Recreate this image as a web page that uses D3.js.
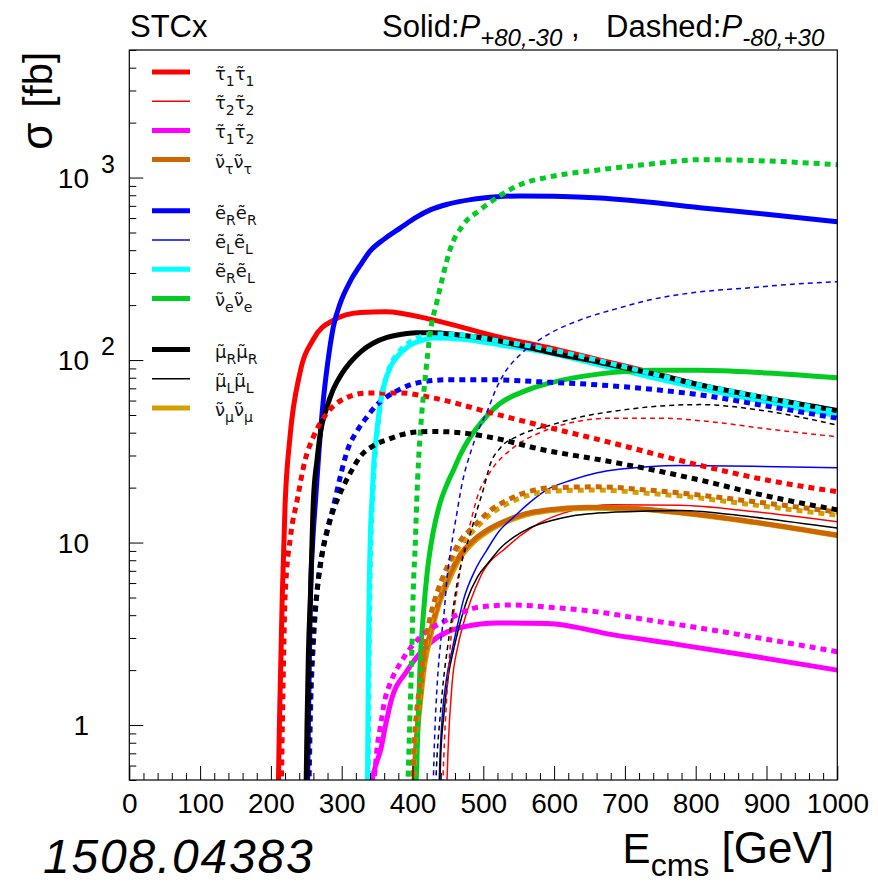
<!DOCTYPE html>
<html>
<head>
<meta charset="utf-8">
<script src="https://cdn.jsdelivr.net/npm/d3@7"></script>
<style>
  body { margin: 0; background: #fff; }
  text { font-family: "Liberation Sans", Arial, Helvetica, sans-serif; }
</style>
</head>
<body>
<div id="chart"></div>
<script>
// cross sections [E_cms GeV, sigma fb]; solid = P(+80,-30), dashed = P(-80,+30)
const stau11Solid = [[209,0.2],[212,1.0],[216,5],[220,16],[227,38],[241,85],[260,130],[288,165],[326,182],[362,184],[429,166],[514,136],[600,115],[665,100],[740,85],[806,73],[900,61],[1000,52]];
const stau11Dashed = [[214,0.3],[217,1.5],[220,5],[228,11],[237,17],[248,28],[260,38],[279,51],[302,61],[336,66],[383,66],[429,62],[514,51],[600,42],[665,36.5],[806,26.5],[900,22],[1000,19]];
const stau22Solid = [[447,0.3],[450,0.7],[456,1.7],[464,2.7],[472,3.6],[496,6.5],[534,9.5],[570,12.2],[613,14.5],[684,16.1],[777,16.0],[880,14.8],[1000,13]];
const stau22Dashed = [[441,0.3],[445,0.8],[450,1.8],[456,3.5],[463,5.5],[472,9],[480,12],[492,18],[510,24.5],[542,33],[580,40],[620,45],[680,48],[750,48],[820,46],[900,42],[1000,38]];
const stau12Solid = [[340,0.42],[343,0.5],[349,0.62],[355,0.73],[362,1.0],[369,1.32],[393,2.0],[425,2.82],[472,3.45],[520,3.63],[590,3.6],[684,3.12],[778,2.75],[890,2.35],[1000,2.0]];
const stau12Dashed = [[344,0.4],[346,0.5],[350,0.75],[355,1.0],[360,1.32],[370,1.75],[383,2.19],[411,3.04],[449,3.77],[496,4.44],[542,4.55],[600,4.4],[661,4.17],[732,3.77],[778,3.54],[890,3.0],[1000,2.52]];
const snutSolid = [[400,0.3],[403,0.6],[407,1.0],[410,1.3],[416,2.2],[425,3.2],[436,4.6],[449,6.24],[466,8.4],[486,10.3],[510,12.0],[534,13.3],[560,14.4],[590,15.1],[647,15.6],[708,15.4],[778,14.6],[880,13],[1000,11]];
const snutDashed = [[399,0.3],[402,0.73],[406,1.2],[411,1.7],[418,2.8],[425,3.91],[436,5.5],[449,7.36],[466,10],[486,12.2],[510,15],[534,17.1],[560,18.8],[590,19.9],[661,20.2],[732,19.4],[778,18.7],[880,16.8],[1000,14.7]];
const seRRSolid = [[251,0.3],[253,1.0],[254.5,2.5],[256,5.3],[259,10],[263,17],[268,32],[274,60],[280,95],[288,151],[298,205],[312,270],[326,330],[340,395],[360,460],[383,530],[405,605],[425,665],[450,715],[482,757],[520,785],[552,793],[600,790],[665,773],[740,730],[806,684],[900,630],[1000,573]];
const seRRDashed = [[253,0.3],[256,1.2],[260,2.8],[265,5.3],[273,9],[280,12],[288,15.6],[298,23],[308,32],[322,41],[336,49],[350,57],[364,63],[385,70],[407,75],[450,78],[514,78],[580,76],[665,73],[740,69],[806,64.5],[900,56],[1000,48]];
const seLLSolid = [[436,0.3],[439,0.7],[442,1.11],[449,1.9],[456,2.58],[464,3.6],[472,4.85],[488,7.0],[505,9.1],[522,11.5],[543,13.8],[565,16.5],[590,19.5],[625,22],[661,24.1],[732,26],[778,26.4],[880,26.2],[1000,25.7]];
const seLLDashed = [[428,0.3],[431,0.8],[435,1.7],[440,2.9],[444,3.9],[449,6.5],[454,9.1],[462,14],[470,21],[483,32],[495,43],[506,53],[517,68],[530,85],[552,107],[590,137],[637,166],[690,192],[736,214],[800,235],[877,249],[940,261],[1000,269]];
const seRLSolid = [[336,0.3],[337,1],[338,3],[339,6],[340.5,11],[343,18],[345,26],[350,42],[355,60],[362,78],[369,92],[380,106],[393,118],[410,127],[429,132],[470,130],[524,121],[600,108],[665,94],[740,80],[806,70],[900,59],[1000,49.5]];
const seRLDashed = [[337,0.3],[338,1],[339,3],[340,6],[341.5,11],[344,18],[346,26],[351,43],[356,62],[363,81],[370,96],[381,111],[394,124],[411,134],[430,139],[470,137],[524,127],[600,113],[665,99],[740,84],[806,73],[900,62],[1000,52]];
const sneSolid = [[403,0.3],[406,0.6],[408,1.1],[411,2.3],[415,3.9],[421,7],[429,11.3],[438,16],[449,21],[458,25],[467,30],[480,37],[492,43],[508,51],[524,58],[560,68],[595,75],[665,84],[740,88],[806,88],[900,85],[1000,80]];
const sneDashed = [[392,0.3],[396,1.0],[399,2.5],[401,5.3],[404,10],[406,17],[408.5,28],[411,40],[418,80],[425,141],[435,213],[444,300],[453,403],[470,540],[496,667],[520,780],[552,914],[600,1020],[665,1104],[740,1190],[806,1253],[880,1240],[1000,1177]];
const smuRRSolid = [[249,0.3],[251,1.0],[253,2.5],[256,5.3],[260,17],[265,28],[270,40],[279,55],[288,69],[300,84],[312,97],[328,112],[345,124],[364,133],[383,138],[405,141],[429,141],[460,138],[500,132],[560,118],[600,109],[665,97],[740,84],[806,73],[900,62],[1000,53]];
const smuRRDashed = [[251,0.3],[254,1.2],[258,2.5],[265,5.3],[272,8.5],[279,11.3],[288,15],[298,18.7],[312,24],[326,29.5],[345,34],[364,36.6],[385,39],[407,40.4],[430,40.6],[453,40.4],[514,37.5],[580,32.5],[665,28.4],[740,25],[806,22],[900,18],[1000,15.1]];
const smuLLSolid = [[437,0.3],[440,0.7],[444,1.11],[451,1.9],[458,2.58],[467,3.6],[477,4.85],[492,6.5],[510,8.0],[525,9.4],[543,10.7],[565,12],[590,13],[625,14],[661,14.5],[732,14.9],[778,15.0],[880,13.8],[1000,12]];
const smuLLDashed = [[431,0.3],[434,0.6],[439,1.11],[444,1.8],[449,2.58],[456,4.0],[463,6.0],[472,8.5],[482,11.3],[491,15],[500,19.5],[510,27],[524,33],[550,38.5],[595,44],[640,49],[693,53],[750,56],[806,57],[900,52.5],[1000,44]];
const snumSolid = [[401,0.3],[404,0.6],[408,1.0],[411,1.3],[417,2.1],[426,3.1],[437,4.5],[450,6.0],[467,8.2],[487,10.1],[511,11.8],[535,13.1],[561,14.2],[591,14.9],[648,15.4],[709,15.3],[779,14.5],[880,12.9],[1000,10.9]];
const snumDashed = [[400,0.3],[403,0.7],[407,1.15],[412,1.65],[419,2.7],[426,3.75],[437,5.3],[450,7.1],[467,9.6],[487,11.7],[511,14.4],[535,16.4],[561,18.0],[591,19.1],[662,19.4],[733,18.6],[779,18.0],[880,16.1],[1000,14.1]];

// legend
const legendLabels = [
  [["τ","1"],["τ","1"]], [["τ","2"],["τ","2"]], [["τ","1"],["τ","2"]], [["ν","τ"],["ν","τ"]],
  [["e","R"],["e","R"]], [["e","L"],["e","L"]], [["e","R"],["e","L"]], [["ν","e"],["ν","e"]],
  [["μ","R"],["μ","R"]], [["μ","L"],["μ","L"]], [["ν","μ"],["ν","μ"]]
];
const legendColors = ["#ff0000","#ff0000","#ff00ff","#cc6600","#0000ff","#0000ff","#00ffff","#00cc22","#000000","#000000","#d4a000"];
const legendThick = [true,false,true,true,true,false,true,true,true,false,true];
const legendGroup = [0,0,0,0,1,1,1,1,2,2,2];

const xTicks = [0,100,200,300,400,500,600,700,800,900,1000];
const yTicks = [1,10,100,1000];
const yTickExp = ["1","10","2","3"];

// curve pairs in legend order (solid, dashed)
const curveSets = [
  [stau11Solid, stau11Dashed], [stau22Solid, stau22Dashed], [stau12Solid, stau12Dashed], [snutSolid, snutDashed],
  [seRRSolid, seRRDashed], [seLLSolid, seLLDashed], [seRLSolid, seRLDashed], [sneSolid, sneDashed],
  [smuRRSolid, smuRRDashed], [smuLLSolid, smuLLDashed], [snumSolid, snumDashed]
];

const W = 878, H = 884;
const frame = { left: 129.3, right: 837.3, top: 50, bottom: 780 };

const svg = d3.select("#chart").append("svg").attr("width", W).attr("height", H);

const x = d3.scaleLinear().domain([0, 1000]).range([frame.left, frame.right]);
const y = d3.scaleLog().domain([0.5, 5000]).range([frame.bottom, frame.top]);

svg.append("clipPath").attr("id", "clip")
  .append("rect")
  .attr("x", frame.left).attr("y", frame.top)
  .attr("width", frame.right - frame.left).attr("height", frame.bottom - frame.top);

const line = d3.line().x(d => x(d[0])).y(d => y(d[1])).curve(d3.curveMonotoneX);

const curves = svg.append("g").attr("clip-path", "url(#clip)");
// draw order: solids then dashed; muon sneutrino before tau sneutrino
const order = [0,1,2,10,3,4,5,6,7,8,9];
[0, 1].forEach(k => {
  order.forEach(i => {
    const thick = legendThick[i];
    curves.append("path")
      .datum(curveSets[i][k])
      .attr("fill", "none")
      .attr("stroke", legendColors[i])
      .attr("stroke-width", thick ? 5 : 1.5)
      .attr("stroke-dasharray", k === 0 ? null : (thick ? "6,5" : "5,4"))
      .attr("d", line);
  });
});

// frame
svg.append("rect")
  .attr("x", frame.left).attr("y", frame.top)
  .attr("width", frame.right - frame.left).attr("height", frame.bottom - frame.top)
  .attr("fill", "none").attr("stroke", "#000").attr("stroke-width", 1.2);

// x axis (ticks pointing inward)
const xMinor = d3.range(0, 1001, 20).filter(v => v % 100 !== 0);
svg.append("g")
  .attr("transform", `translate(0,${frame.bottom})`)
  .call(d3.axisBottom(x).tickValues(xMinor).tickSize(-7).tickSizeOuter(0).tickFormat(""))
  .call(g => g.select(".domain").remove());
const xAxis = svg.append("g")
  .attr("transform", `translate(0,${frame.bottom})`)
  .call(d3.axisBottom(x).tickValues(xTicks).tickSize(-14).tickSizeOuter(0).tickPadding(13).tickFormat(d3.format("d")));
xAxis.select(".domain").remove();
xAxis.selectAll("text").attr("font-size", 28).attr("fill", "#000")
  .style("font-family", '"Liberation Sans", Arial, sans-serif');

// y axis
const yMinor = [];
[0.1, 1, 10, 100, 1000].forEach(dec => {
  for (let m = 2; m <= 9; m++) {
    const v = m * dec;
    if (v >= 0.5 && v <= 5000) yMinor.push(v);
  }
});
svg.append("g")
  .attr("transform", `translate(${frame.left},0)`)
  .call(d3.axisLeft(y).tickValues(yMinor).tickSize(-7).tickSizeOuter(0).tickFormat(""))
  .call(g => g.select(".domain").remove());
svg.append("g")
  .attr("transform", `translate(${frame.left},0)`)
  .call(d3.axisLeft(y).tickValues(yTicks).tickSize(-14).tickSizeOuter(0).tickFormat(""))
  .call(g => g.select(".domain").remove());

yTicks.forEach((v, i) => {
  const ty = y(v);
  const base = v >= 100 ? "10" : String(v);
  svg.append("text")
    .attr("x", 89).attr("y", ty + 10)
    .attr("text-anchor", "end").attr("font-size", 28)
    .text(base);
  if (v >= 100) {
    svg.append("text")
      .attr("x", 101).attr("y", ty - 5)
      .attr("font-size", 25)
      .text(yTickExp[i]);
  }
});

// titles
svg.append("text").attr("x", 130).attr("y", 37).attr("font-size", 31).text("STCx");
const pol = svg.append("text").attr("x", 382).attr("y", 37).attr("font-size", 31);
pol.append("tspan").text("Solid:");
pol.append("tspan").attr("font-style", "italic").text("P");
pol.append("tspan").attr("font-style", "italic").attr("font-size", 24).attr("dy", 9).text("+80,-30");
pol.append("tspan").attr("dy", -9).text(" ,");
pol.append("tspan").attr("x", 606).text("Dashed:");
pol.append("tspan").attr("font-style", "italic").text("P");
pol.append("tspan").attr("font-style", "italic").attr("font-size", 24).attr("dy", 9).text("-80,+30");

const xt = svg.append("text").attr("x", 834).attr("y", 863).attr("text-anchor", "end").attr("font-size", 44);
xt.append("tspan").attr("font-size", 42).text("E");
xt.append("tspan").attr("font-size", 32).attr("dy", 13).text("cms");
xt.append("tspan").attr("dy", -13).text(" [GeV]");

const yt = svg.append("text")
  .attr("transform", "translate(52,52) rotate(-90)")
  .attr("text-anchor", "end").attr("font-size", 40);
yt.append("tspan").attr("font-size", 44).text("σ");
yt.append("tspan").attr("dx", 4).text(" [fb]");

svg.append("text")
  .attr("x", 43).attr("y", 873)
  .attr("font-size", 48).attr("font-style", "italic").attr("letter-spacing", 1.8)
  .text("1508.04383");

// legend: letters carry a combining tilde (U+0303)
const legend = svg.append("g");
legendLabels.forEach((lab, i) => {
  const ly = 72 + i * 29.2 + legendGroup[i] * 22;
  legend.append("line")
    .attr("x1", 152).attr("x2", 190).attr("y1", ly).attr("y2", ly)
    .attr("stroke", legendColors[i]).attr("stroke-width", legendThick[i] ? 5 : 1.5);
  const t = legend.append("text").attr("x", 215).attr("y", ly + 8)
    .attr("font-size", 18).attr("fill", "#111")
    .style("font-family", '"DejaVu Sans", sans-serif');
  lab.forEach(([b, s], j) => {
    t.append("tspan").attr("dy", j === 0 ? 0 : -6).text(b + "\u0303");
    t.append("tspan").attr("font-size", 14).attr("dy", 6).text(s);
  });
});
</script>
</body>
</html>
